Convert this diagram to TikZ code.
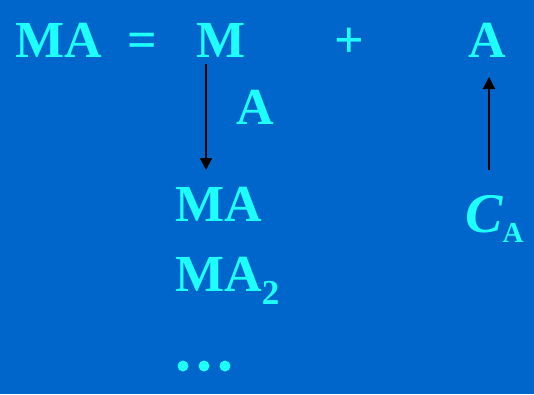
\documentclass[tikz,border=0pt]{standalone}
\usepackage{fontspec}
\setmainfont{Liberation Serif}
\usetikzlibrary{arrows.meta}
\definecolor{slidebg}{RGB}{0,102,204}
\definecolor{slidefg}{RGB}{30,255,255}

\begin{document}
\begin{tikzpicture}[
  x=1pt, y=-1pt,
  term/.style={anchor=base west, inner sep=0pt, text=slidefg, font=\fontsize{52}{52}\selectfont\bfseries},
  arrow/.style={-{Triangle[length=12pt, width=12pt]}, line width=2pt, black},
]

% === Background ===
\fill[slidebg] (0,0) rectangle (534,394);

% === Equilibrium ===
\node[term] (ma) at (15,57) {MA};
\node[term] (eq) at (127,57) {=};
\node[term] (m) at (196,57) {M};
\node[term] (plus) at (334,57) {+};
\node[term] (a) at (468,57) {A};

% === Complexes ===
\node[term] (a2) at (236,124) {A};
\node[term] (ma1) at (175,221) {MA};
\node[term] (ma2) at (175,291) {MA\raisebox{-13pt}{\fontsize{35}{35}\selectfont 2}};
\foreach \x in {183,204,225}
  \fill[slidefg] (\x,366) circle (5.5pt);

% === Concentration ===
\node[term] (ca) at (465,232) {\fontsize{56}{56}\selectfont\itshape C\raisebox{-10pt}{\upshape\fontsize{29}{29}\selectfont A}};

% === Arrows ===
\coordinate (down-from) at (206,64);
\coordinate (down-to) at (206,170);
\coordinate (up-from) at (489,170);
\coordinate (up-to) at (489,77);
\draw[arrow] (down-from) -- (down-to);
\draw[arrow] (up-from) -- (up-to);

\end{tikzpicture}
\end{document}
